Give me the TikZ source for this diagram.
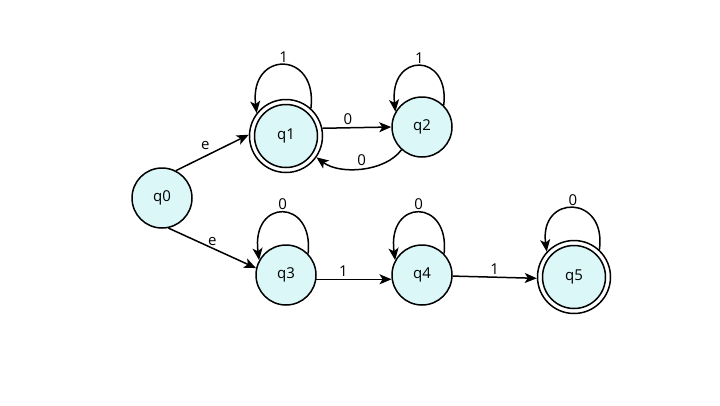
\documentclass[tikz,border=0pt]{standalone}
\usepackage{fontspec}
\setmainfont{Open Sans}
\usetikzlibrary{arrows.meta}
\definecolor{stfill}{RGB}{219,247,248}
\newcommand{\lblfont}{\fontsize{15}{17}\selectfont}
\begin{document}
\begin{tikzpicture}[x=1pt,y=-1pt,
  st/.style={circle,draw=black,line width=1.5pt,fill=stfill,minimum size=60pt,inner sep=0pt,font=\lblfont},
  acceptouter/.style={circle,draw=black,line width=1.5pt,fill=white,minimum size=73pt,inner sep=0pt},
  acceptinner/.style={circle,draw=black,line width=1.5pt,fill=stfill,minimum size=63pt,inner sep=0pt,font=\lblfont},
  edge/.style={line width=1.5pt,-{Stealth[length=12pt,width=10pt,inset=3pt]}},
  lbl/.style={inner sep=2pt,font=\lblfont}]
\useasboundingbox (0,0) rectangle (720,405);
\node[st] (q0) at (162,198) {q0};
\node[acceptouter] (q1) at (286,136) {};
\node[acceptinner] (q1i) at (q1.center) {q1};
\node[st] (q2) at (422,127) {q2};
\node[st] (q3) at (286,275) {q3};
\node[st] (q4) at (422,275) {q4};
\node[acceptouter] (q5) at (574,277) {};
\node[acceptinner] (q5i) at (q5.center) {q5};
% transitions
\draw[edge] (q0.63) -- (q1.178) node[lbl,midway,above left=0pt] {e};
\draw[edge] (q0.-78) -- (q3.167) node[lbl,midway,above] {e};
\draw[edge] (q1.12) -- (q2.180) node[lbl,pos=0.37,above] {0};
\draw[edge] (q2.228) .. controls (385,172) and (340,175) .. (q1.-35) node[lbl,midway,above] {0};
\draw[edge] (q3.-8) -- (q4.188) node[lbl,pos=0.36,above] {1};
\draw[edge] (q4.-2) -- (q5.182) node[lbl,midway,above] {1};
% loops
\draw[edge] (q1.48) .. controls (318,50) and (249,50) .. (q1.142) node[lbl,midway,above] {1};
\draw[edge] (q2.45) .. controls (450,52) and (389,52) .. (q2.150) node[lbl,midway,above] {1};
\draw[edge] (q3.44) .. controls (314,198) and (251,198) .. (q3.151) node[lbl,midway,above] {0};
\draw[edge] (q4.44) .. controls (450,198) and (387,198) .. (q4.151) node[lbl,midway,above] {0};
\draw[edge] (q5.47) .. controls (607,194) and (539,194) .. (q5.137) node[lbl,midway,above] {0};
\end{tikzpicture}
\end{document}
